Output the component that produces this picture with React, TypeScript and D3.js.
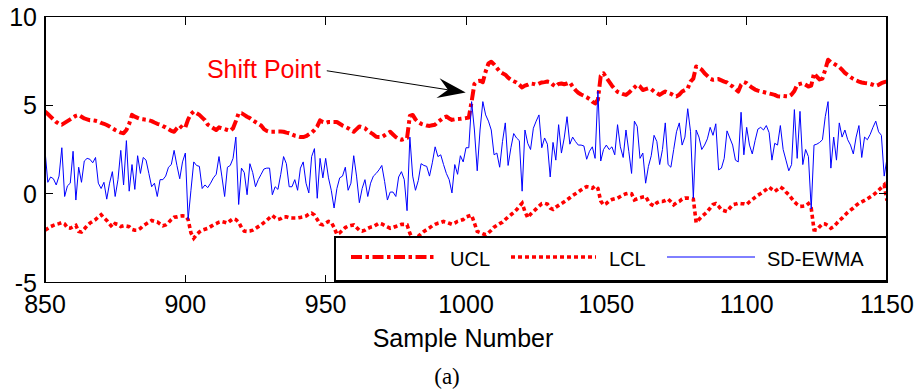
import React from "react";
import * as d3 from "d3";

// ---------------- data ----------------
const SAMPLE_START = 850;

const ucl: number[] = [
  4.65, 4.5, 4.35, 4.2, 4.05, 3.95, 3.9, 4.0, 4.1, 4.2, 4.3,
  4.4, 4.45, 4.35, 4.25, 4.2, 4.15, 4.15, 4.12, 4.08, 4.0,
  3.95, 3.88, 3.8, 3.7, 3.6, 3.52, 3.45, 3.42, 3.6, 3.95,
  4.45, 4.35, 4.28, 4.22, 4.2, 4.18, 4.15, 4.1, 4.02, 3.95,
  3.9, 3.82, 3.75, 3.65, 3.55, 3.5, 3.7, 3.85, 3.7, 3.75,
  4.2, 4.5, 4.65, 4.55, 4.45, 4.3, 4.15, 3.9, 3.8, 3.7,
  3.6, 3.75, 3.7, 3.65, 3.6, 3.55, 3.7, 4.1, 4.55, 4.55,
  4.45, 4.35, 4.27, 4.15, 4.05, 3.95, 3.85, 3.65, 3.55, 3.5,
  3.5, 3.5, 3.52, 3.52, 3.5, 3.45, 3.42, 3.35, 3.28, 3.25,
  3.2, 3.2, 3.25, 3.35, 3.45, 3.6, 3.8, 4.14, 4.05, 4.0,
  4.05, 4.05, 4.05, 4.05, 3.95, 3.85, 3.78, 3.7, 3.6, 3.5,
  3.65, 3.8, 3.75, 3.7, 3.55, 3.45, 3.35, 3.22, 3.2, 3.2,
  3.3, 3.4, 3.5, 3.35, 3.2, 3.1, 3.05, 3.1, 3.15, 4.4,
  4.45, 4.2, 4.05, 3.95, 3.9, 3.85, 3.83, 3.87, 3.9, 4.05,
  4.17, 4.3, 4.36, 4.25, 4.17, 4.2, 4.22, 4.23, 4.25, 4.27,
  4.3, 5.2, 6.2, 6.35, 6.38, 6.3, 6.9, 7.35, 7.45, 7.3,
  7.1, 6.9, 6.8, 6.72, 6.55, 6.43, 6.35, 6.28, 6.15, 6.0,
  6.1, 6.15, 6.22, 6.2, 6.15, 6.22, 6.28, 6.3, 6.33, 6.3,
  6.15, 6.05, 6.2, 6.22, 6.18, 6.22, 6.28, 6.05, 5.85, 5.7,
  5.6, 5.53, 5.45, 5.35, 5.2, 5.1, 5.3, 6.65, 6.8, 6.55,
  6.33, 6.1, 5.9, 5.75, 5.68, 5.62, 5.58, 5.7, 5.85, 6.0,
  6.15, 6.05, 5.85, 5.9, 5.95, 5.9, 5.77, 5.68, 5.58, 5.68,
  5.77, 5.7, 5.64, 5.55, 5.49, 5.6, 5.77, 5.85, 5.95, 6.33,
  6.5, 7.18, 7.1, 7.0, 6.8, 6.65, 6.5, 6.43, 6.45, 6.47,
  6.4, 6.33, 6.28, 6.15, 6.05, 5.9, 5.77, 6.15, 6.3, 6.24,
  6.1, 5.98, 5.88, 5.82, 5.78, 5.74, 5.7, 5.66, 5.62, 5.58,
  5.5, 5.49, 5.52, 5.5, 5.49, 5.6, 5.8, 6.15, 6.2, 6.24,
  6.15, 6.05, 6.1, 6.8, 6.6, 6.45, 6.5, 7.0, 7.56, 7.42,
  7.35, 7.25, 7.15, 7.0, 6.82, 6.7, 6.58, 6.48, 6.4, 6.33,
  6.28, 6.25, 6.23, 6.2, 6.15, 6.09, 6.15, 6.24, 6.3, 6.33,
];

const lcl: number[] = [
  -2.05, -1.95, -1.85, -1.78, -1.72, -1.68, -1.62, -1.7, -1.92, -1.94, -1.85,
  -1.78, -2.12, -2.15, -1.98, -1.8, -1.65, -1.55, -1.45, -1.3, -1.18,
  -1.35, -1.5, -1.7, -1.88, -1.68, -1.72, -1.84, -1.8, -1.82, -1.85,
  -2.0, -2.05, -2.05, -1.95, -1.8, -1.7, -1.6, -1.5, -1.55, -1.58,
  -1.7, -1.8, -1.75, -1.62, -1.45, -1.32, -1.3, -1.26, -1.24, -1.25,
  -1.45, -2.2, -2.5, -2.3, -2.15, -2.05, -2.0, -1.95, -1.85, -1.75,
  -1.68, -1.6, -1.56, -1.6, -1.65, -1.52, -1.4, -1.45, -1.6, -1.9,
  -2.1, -2.12, -2.1, -2.05, -1.95, -1.85, -1.75, -1.62, -1.5, -1.35,
  -1.22, -1.35, -1.45, -1.4, -1.3, -1.3, -1.35, -1.36, -1.36, -1.36,
  -1.33, -1.3, -1.25, -1.15, -1.09, -1.2, -1.45, -1.7, -1.75, -1.65,
  -1.56, -1.6, -1.9, -2.28, -2.2, -2.05, -1.9, -1.82, -1.78, -1.75,
  -1.9, -2.05, -2.1, -2.05, -1.95, -1.88, -1.84, -1.75, -1.65, -1.7,
  -1.78, -1.86, -1.94, -1.9, -1.84, -1.78, -1.72, -1.72, -1.75, -2.22,
  -2.55, -2.5, -2.4, -2.25, -2.12, -2.02, -1.92, -1.8, -1.72, -1.66,
  -1.62, -1.56, -1.6, -1.66, -1.72, -1.65, -1.55, -1.5, -1.45, -1.3,
  -1.25, -1.2, -1.65, -2.12, -2.18, -2.25, -2.31, -2.2, -2.05, -1.88,
  -1.78, -1.68, -1.6, -1.45, -1.3, -1.18, -1.05, -0.9, -0.7, -0.53,
  -1.0, -1.35, -1.15, -1.0, -0.85, -0.7, -0.55, -0.53, -0.58, -0.8,
  -0.88, -0.75, -0.65, -0.55, -0.45, -0.34, -0.22, -0.1, 0.0, 0.1,
  0.22, 0.32, 0.41, 0.38, 0.32, 0.45, 0.3, -0.4, -0.62, -0.55,
  -0.4, -0.32, -0.28, -0.24, -0.15, -0.06, 0.0, 0.04, 0.0, -0.34,
  -0.28, -0.22, -0.18, -0.15, -0.43, -0.6, -0.68, -0.5, -0.43, -0.43,
  -0.38, -0.3, -0.45, -0.62, -0.5, -0.43, -0.3, -0.24, -0.24, -0.26,
  -0.3, -1.62, -1.45, -1.28, -1.15, -1.0, -0.8, -0.6, -0.55, -0.7,
  -0.9, -0.95, -1.0, -0.8, -0.62, -0.58, -0.53, -0.55, -0.56, -0.6,
  -0.45, -0.33, -0.2, -0.08, 0.02, 0.13, 0.25, 0.38, 0.25, 0.13,
  0.25, 0.38, 0.28, 0.1, -0.05, -0.25, -0.45, -0.6, -0.71, -0.7,
  -0.68, -0.55, -0.8, -2.03, -2.05, -1.85, -1.69, -1.7, -1.8, -1.94,
  -1.85, -1.68, -1.5, -1.37, -1.2, -1.05, -0.92, -0.8, -0.65, -0.53,
  -0.45, -0.37, -0.28, -0.18, -0.08, 0.05, 0.2, 0.35, 0.5, -0.38,
];

const sdEwma: number[] = [
  2.45, 0.65, 0.95, 0.85, 0.5, 1.0, 2.6, -0.15, 0.45, 0.6, 2.4,
  -0.35, 1.5, 0.65, 1.85, 2.0, 1.95, 1.75, 2.05, 0.6, 0.3,
  0.65, -0.3, 0.6, 1.25, -0.15, 0.8, 2.45, 0.5, 3.0, 0.15,
  1.65, 0.25, 2.15, 1.15, 2.05, 1.9, 1.15, 0.4, 0.6, -0.15,
  0.8, 0.8, 1.0, 1.5, 1.65, 2.45, 1.6, 0.85, 1.8, 2.3,
  -1.45, 0.2, 1.8, 1.6, 1.55, 0.3, 0.5, 0.35, 0.6, 0.9,
  1.1, 2.1, 1.0, -0.15, 1.5, 1.6, 2.0, 3.2, -0.6, 1.45,
  1.2, -0.05, 1.7, 1.2, 0.4, 0.8, 1.1, 1.4, 1.45, 1.45,
  -0.05, 0.4, 0.25, 1.1, 2.1, 1.7, 0.4, 0.4, 0.8, 0.2,
  1.45, 1.8, 0.6, 0.05, 2.1, 2.55, -0.25, 2.0, 0.9, 2.0,
  0.9, 0.2, -0.8, 0.3, 0.9, 1.0, 1.5, 0.2, 0.6, 2.15,
  1.0, -0.5, 0.3, 0.8, -0.15, 0.6, 1.0, 1.15, 1.35, 1.6,
  0.7, -0.35, 0.1, 0.1, -0.15, 0.95, 1.25, 0.8, -0.95, 3.2,
  1.0, 0.2, 0.75, 1.7, 1.6, 1.55, 1.0, 1.75, 2.65, 2.1,
  2.2, 1.65, 1.15, 0.8, 0.05, 1.65, 1.1, 2.15, 1.8, 2.6,
  2.6, 5.2, 3.6, 1.3, 3.6, 5.2, 4.45, 4.1, 3.6, 2.2,
  2.3, 1.5, 2.95, 4.0, 1.6, 2.6, 3.4, 3.15, 3.0, 0.15,
  3.6, 2.85, 2.5, 3.7, 4.1, 4.45, 2.6, 3.15, 2.8, 0.95,
  2.9, 1.9, 3.9, 2.3, 3.15, 4.35, 2.8, 3.2, 2.95, 2.75,
  2.75, 2.7, 1.95, 2.4, 2.65, 2.0, 5.8, 1.85, 2.5, 2.75,
  2.5, 2.65, 2.2, 3.9, 2.65, 2.05, 3.6, 2.4, 1.15, 4.1,
  3.8, 2.0, 2.3, 0.6, 1.55, 2.15, 3.3, 2.95, 1.65, 2.5,
  4.0, 1.65, 1.5, 2.5, 3.5, 4.0, 2.75, 3.2, 4.8, 3.5,
  -0.25, 3.6, 3.2, 2.5, 2.75, 3.1, 3.75, 3.3, 3.95, 1.35,
  1.45, 2.0, 3.55, 3.15, 2.75, 1.9, 1.8, 4.6, 2.2, 3.75,
  2.75, 2.25, 3.0, 3.65, 3.75, 3.6, 3.85, 3.45, 1.9, 2.85,
  2.75, 3.85, 2.5, 1.9, 1.3, 1.65, 4.75, 2.0, 4.65, 1.65,
  2.5, 2.1, -0.85, 2.75, 2.8, 2.9, 3.05, 4.35, 5.2, 1.45,
  3.2, 1.9, 4.0, 3.2, 3.6, 3.05, 2.75, 2.25, 3.2, 3.85,
  2.05, 3.2, 3.05, 3.35, 3.75, 4.1, 3.5, 3.3, 1.0, 2.0,
];

const xTicks = [850, 900, 950, 1000, 1050, 1100, 1150];
const yTicks = [-5, 0, 5, 10];
const legendLabels = ["UCL", "LCL", "SD-EWMA"];
const xLabel = "Sample Number";
const caption = "(a)";
const annotationText = "Shift Point";

// annotation anchors (data units)
const annText = { x: 907.7, y: 6.55 };
const annFrom = { x: 950.4, y: 6.94 };
const annTo = { x: 999.9, y: 5.71 };

// ---------------- layout ----------------
const W = 917;
const H = 392;
const PL = 45;
const PT = 16.5;
const PW = 842;
const PH = 266;
const RED = "#ff0000";
const BLUE = "#0000ff";
const FONT = "'Liberation Sans', Arial, Helvetica, sans-serif";

export default function App() {
  const x = d3.scaleLinear().domain([850, 1150]).range([PL, PL + PW]);
  const y = d3.scaleLinear().domain([-5, 10]).range([PT + PH, PT]);

  const line = d3
    .line<number>()
    .x((_, i) => x(SAMPLE_START + i))
    .y((d) => y(d));

  // arrow geometry
  const fx = x(annFrom.x), fy = y(annFrom.y);
  const tx = x(annTo.x), ty = y(annTo.y);
  const len = Math.hypot(tx - fx, ty - fy);
  const ux = (tx - fx) / len, uy = (ty - fy) / len;
  const nx = -uy, ny = ux;
  const HL = 28, HW = 10, NB = 18;
  const head = [
    [tx, ty],
    [tx - HL * ux + HW * nx, ty - HL * uy + HW * ny],
    [tx - NB * ux, ty - NB * uy],
    [tx - HL * ux - HW * nx, ty - HL * uy - HW * ny],
  ]
    .map((p) => p.join(","))
    .join(" ");

  const bottom = PT + PH;
  const right = PL + PW;
  const TL = 8;

  // legend
  const LX = 335, LY = 237, LW = right - 335, LH = 44;
  const legY = 257;

  return (
    <svg
      width={W}
      height={H}
      style={{ position: "absolute", left: 0, top: 0, background: "#fff" }}
      fontFamily={FONT}
    >
      <rect x={0} y={0} width={W} height={H} fill="#fff" />
      <defs>
        <clipPath id="plotClip">
          <rect x={PL} y={PT} width={PW} height={PH} />
        </clipPath>
      </defs>

      <g clipPath="url(#plotClip)">
        <path
          d={line(ucl) || ""}
          fill="none"
          stroke={RED}
          strokeWidth={4}
          strokeDasharray="11,3.5,3.5,3.5"
          strokeLinejoin="round"
        />
        <path
          d={line(lcl) || ""}
          fill="none"
          stroke={RED}
          strokeWidth={3.6}
          strokeDasharray="4,3"
        />
        <path d={line(sdEwma) || ""} fill="none" stroke={BLUE} strokeWidth={1} />
      </g>

      {/* ticks */}
      <g stroke="#000" strokeWidth={1} shapeRendering="crispEdges">
        {xTicks.map((t) => (
          <g key={"xt" + t}>
            <line x1={x(t)} x2={x(t)} y1={bottom} y2={bottom - TL} />
            <line x1={x(t)} x2={x(t)} y1={PT} y2={PT + TL} />
          </g>
        ))}
        {yTicks.map((t) => (
          <g key={"yt" + t}>
            <line x1={PL} x2={PL + TL} y1={y(t)} y2={y(t)} />
            <line x1={right} x2={right - TL} y1={y(t)} y2={y(t)} />
          </g>
        ))}
      </g>

      {/* legend */}
      <rect
        x={LX}
        y={LY}
        width={LW}
        height={LH}
        fill="#fff"
        stroke="#000"
        strokeWidth={1.2}
        shapeRendering="crispEdges"
      />
      <line x1={351} x2={435} y1={legY} y2={legY} stroke={RED} strokeWidth={4} strokeDasharray="11,3.5,3.5,3.5" />
      <text x={450} y={265.5} fontSize={20} fill="#000">{legendLabels[0]}</text>
      <line x1={511} x2={596} y1={legY} y2={legY} stroke={RED} strokeWidth={3.6} strokeDasharray="4,3" />
      <text x={609} y={265.5} fontSize={20} fill="#000">{legendLabels[1]}</text>
      <line x1={667} x2={755} y1={legY} y2={legY} stroke={BLUE} strokeWidth={1} />
      <text x={767} y={265.5} fontSize={20} fill="#000">{legendLabels[2]}</text>

      {/* frame */}
      <rect
        x={PL}
        y={PT}
        width={PW}
        height={PH}
        fill="none"
        stroke="#000"
        strokeWidth={1.2}
        shapeRendering="crispEdges"
      />

      {/* tick labels */}
      {xTicks.map((t) => (
        <text key={"xl" + t} x={x(t)} y={313} fontSize={25} textAnchor="middle" fill="#000">
          {t}
        </text>
      ))}
      {yTicks.map((t) => (
        <text key={"yl" + t} x={37} y={y(t) + 9} fontSize={25} textAnchor="end" fill="#000">
          {t}
        </text>
      ))}

      <text x={463} y={347} fontSize={25} textAnchor="middle" fill="#000">
        {xLabel}
      </text>
      <text
        x={447}
        y={384}
        fontSize={23}
        textAnchor="middle"
        fill="#000"
        fontFamily="'Liberation Serif', 'Times New Roman', serif"
      >
        {caption}
      </text>

      {/* annotation */}
      <text x={x(annText.x)} y={y(annText.y)} fontSize={25} fill={RED}>
        {annotationText}
      </text>
      <line
        x1={fx}
        y1={fy}
        x2={tx - NB * ux}
        y2={ty - NB * uy}
        stroke="#000"
        strokeWidth={1}
      />
      <polygon points={head} fill="#000" />
    </svg>
  );
}
